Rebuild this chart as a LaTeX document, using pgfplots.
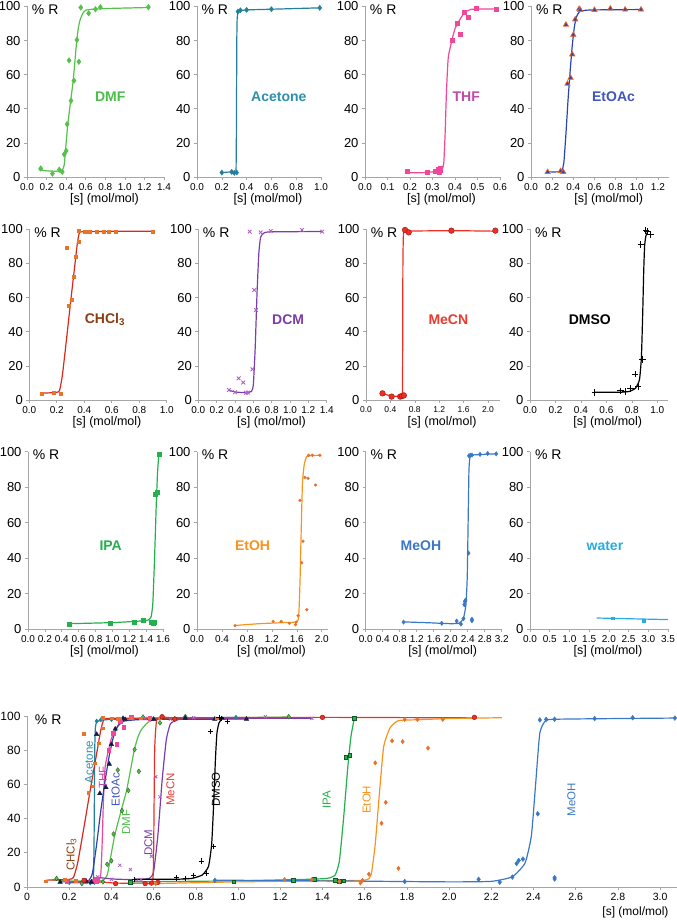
\documentclass[border=0pt]{standalone}
\usepackage{pgfplots}
\pgfplotsset{compat=1.18}
\usepackage{pgfplotstable}
\usepackage{fontspec}
\setmainfont{Liberation Sans}

\definecolor{lDMF}{HTML}{55C04A}\definecolor{tDMF}{HTML}{4DBE4A}
\definecolor{lACE}{HTML}{22809A}\definecolor{tACE}{HTML}{2E8FAB}
\definecolor{lTHF}{HTML}{F0479A}\definecolor{tTHF}{HTML}{BE4BA8}
\definecolor{lEAC}{HTML}{2B45B0}\definecolor{tEAC}{HTML}{3F57B8}\definecolor{oEAC}{HTML}{F26522}
\definecolor{lCHC}{HTML}{D62A1E}\definecolor{tCHC}{HTML}{8B3E12}\definecolor{mCHC}{HTML}{E8742A}
\definecolor{lDCM}{HTML}{7B3DAE}\definecolor{tDCM}{HTML}{7D3CA8}\definecolor{mDCM}{HTML}{B060C0}
\definecolor{lMCN}{HTML}{EE2F24}\definecolor{tMCN}{HTML}{E83A2E}\definecolor{eMCN}{HTML}{A01818}
\definecolor{lIPA}{HTML}{22B14C}
\definecolor{lETH}{HTML}{F7941D}\definecolor{mETH}{HTML}{E8702A}
\definecolor{lMEO}{HTML}{3A78C6}
\definecolor{lWAT}{HTML}{29ABE2}
\definecolor{axg}{HTML}{A6A6A6}

% ---------------- data ----------------
\pgfplotstableread[row sep=\\]{x y\\0.14 5\\0.26 2\\0.33 4.3\\0.36 3\\0.38 13.3\\0.40 15.3\\0.41 31\\0.45 44.7\\0.48 56.5\\0.43 68.4\\0.51 80.4\\0.53 67.6\\0.55 99.4\\0.63 96\\0.70 98.4\\0.75 99.6\\1.24 99.6\\}\dmfP
\pgfplotstableread[row sep=\\]{x y\\0.12 4.2\\0.2 3.6\\0.3 3.4\\0.36 3.8\\0.38 7\\0.39 13\\0.40 20\\0.417 31\\0.447 45\\0.471 56\\0.49 68\\0.508 80\\0.525 87.5\\0.542 92\\0.57 96\\0.60 97.8\\0.65 98.3\\0.8 98.8\\1.24 99.4\\}\dmfC

\pgfplotstableread[row sep=\\]{x y\\0.20 2.6\\0.28 3\\0.30 2.4\\0.32 2.6\\0.33 97\\0.35 97.8\\0.40 98\\0.60 98.4\\0.99 99.2\\}\aceP
\pgfplotstableread[row sep=\\]{x y\\0.2 2.6\\0.26 2.9\\0.29 2.7\\0.31 2.5\\0.315 4\\0.318 30\\0.321 80\\0.324 93\\0.33 96.5\\0.35 97.5\\0.40 98\\0.60 98.4\\0.99 99.2\\}\aceC

\pgfplotstableread[row sep=\\]{x y\\0.188 3.3\\0.278 3\\0.314 3.5\\0.325 4.5\\0.330 3\\0.333 4\\0.336 5\\0.386 80\\0.408 90\\0.424 83.5\\0.441 96.7\\0.458 93.5\\0.494 99.2\\0.581 98.6\\}\thfP
\pgfplotstableread[row sep=\\]{x y\\0.188 2.5\\0.25 2.5\\0.30 3\\0.34 4\\0.350 8\\0.356 25\\0.362 50\\0.370 70\\0.386 80\\0.40 87\\0.42 92\\0.44 96\\0.47 98.3\\0.58 98.6\\}\thfC

\pgfplotstableread[row sep=\\]{x y\\0.157 2.9\\0.28 3.5\\0.305 2.9\\0.33 89.3\\0.345 54.7\\0.374 58.2\\0.39 71.9\\0.40 83.4\\0.418 92.4\\0.455 98.6\\0.465 98\\0.60 98\\0.75 98.8\\0.89 98.2\\1.04 98.2\\}\eacP
\pgfplotstableread[row sep=\\]{x y\\0.157 3\\0.25 3\\0.29 3.5\\0.31 8\\0.33 25\\0.35 45\\0.37 62\\0.39 77\\0.41 88\\0.43 94\\0.46 97\\0.52 97.8\\0.6 98\\1.04 98.2\\}\eacC

\pgfplotstableread[row sep=\\]{x y\\0.09 3.5\\0.18 4.3\\0.23 3.8\\0.27 89.5\\0.29 55\\0.31 59\\0.32 72.5\\0.34 84\\0.36 92.8\\0.36 99\\0.40 98.7\\0.43 98.4\\0.44 98.7\\0.49 98.8\\0.54 98.8\\0.58 98.8\\0.63 98.8\\0.90 98.7\\}\chcP
\pgfplotstableread[row sep=\\]{x y\\0.09 4\\0.15 4.2\\0.20 4.5\\0.22 5.5\\0.24 14\\0.27 35\\0.30 57\\0.33 78\\0.35 92\\0.365 98\\0.40 98.6\\0.6 98.8\\0.91 98.8\\}\chcC

\pgfplotstableread[row sep=\\]{x y\\0.335 5.9\\0.40 4.5\\0.44 12.7\\0.49 10.2\\0.52 4.3\\0.54 4.3\\0.56 98.6\\0.59 18\\0.61 64.5\\0.63 52.7\\0.68 98.2\\0.79 99\\1.13 99.6\\1.35 98.6\\}\dcmP
\pgfplotstableread[row sep=\\]{x y\\0.34 5.5\\0.42 4.6\\0.52 4.3\\0.58 5\\0.60 9\\0.62 30\\0.64 62\\0.66 86\\0.68 95.5\\0.72 98\\0.8 98.5\\1.35 98.7\\}\dcmC

\pgfplotstableread[row sep=\\]{x y\\0.27 3.9\\0.42 2\\0.56 2\\0.59 2.3\\0.62 2.7\\0.64 99.6\\0.70 98.2\\1.40 99.2\\2.12 99.2\\}\mcnP
\pgfplotstableread[row sep=\\]{x y\\0.27 3.8\\0.42 2.3\\0.56 2.3\\0.595 2.6\\0.600 20\\0.605 80\\0.615 98\\0.65 99.5\\0.70 99\\1.40 99.2\\2.12 98.9\\}\mcnC

\pgfplotstableread[row sep=\\]{x y\\0.51 4.3\\0.71 5.3\\0.75 4.9\\0.79 6.8\\0.825 15.2\\0.85 7.8\\0.885 23.8\\0.87 91\\0.91 99.2\\0.92 98.6\\0.95 97\\}\dmsP
\pgfplotstableread[row sep=\\]{x y\\0.51 4.5\\0.7 4.5\\0.78 5\\0.83 7\\0.86 12\\0.875 25\\0.885 50\\0.893 75\\0.90 90\\0.91 96\\0.93 99.5\\}\dmsC

\pgfplotstableread[row sep=\\]{x y\\0.49 2.8\\0.98 3.2\\1.26 4.1\\1.36 4.7\\1.46 3.9\\1.48 3.4\\1.50 3.6\\1.51 76\\1.53 77\\1.55 98.7\\}\ipaP
\pgfplotstableread[row sep=\\]{x y\\0.49 3\\1.0 3.6\\1.3 4.4\\1.42 5\\1.46 7\\1.48 15\\1.50 40\\1.52 70\\1.535 88\\1.55 98\\}\ipaC

\pgfplotstableread[row sep=\\]{x y\\0.61 1.9\\1.22 4.3\\1.35 4.3\\1.48 3.2\\1.58 2.4\\1.59 3.9\\1.62 7.5\\1.65 72.6\\1.68 37.3\\1.70 49.5\\1.73 85.5\\1.76 10.9\\1.78 85\\1.79 98\\1.85 98\\1.90 81.2\\1.97 98\\}\ethP
\pgfplotstableread[row sep=\\]{x y\\0.61 2\\1.0 3\\1.4 3.6\\1.6 4\\1.63 7\\1.65 25\\1.67 55\\1.69 82\\1.72 93\\1.76 97.3\\1.85 97.8\\1.97 98\\}\ethC
\pgfplotstableread[row sep=\\]{x y\\0.61 2\\1.0 3\\1.4 3.6\\1.6 4\\1.63 7\\1.65 25\\1.67 55\\1.69 82\\1.72 93\\1.76 97.3\\1.85 97.8\\2.0 98.5\\2.25 99\\}\ethB

\pgfplotstableread[row sep=\\]{x y\\0.89 3.9\\1.79 3.2\\2.14 4.5\\2.24 2.8\\2.30 5.8\\2.32 13.7\\2.33 15.5\\2.35 16.3\\2.42 42.8\\2.43 97.7\\2.46 98\\2.50 98.1\\2.50 4.7\\2.50 5.5\\2.69 98.5\\2.87 99\\3.07 98.8\\}\meoP
\pgfplotstableread[row sep=\\]{x y\\0.89 4\\1.5 3.5\\2.0 3\\2.2 3.3\\2.3 6\\2.36 14\\2.39 30\\2.41 60\\2.43 90\\2.46 97.5\\2.55 98.2\\3.07 98.8\\}\meoC

\pgfplotstableread[row sep=\\]{x y\\2.09 6\\2.89 4.6\\}\watP
\pgfplotstableread[row sep=\\]{x y\\1.69 6.2\\3.5 5.3\\}\watC

\pgfplotsset{
  panel/.style={
    scale only axis, anchor=south west,
    xmin=0, ymin=0, ymax=100, enlargelimits=false, clip=false,
    axis x line*=bottom, axis y line*=left,
    axis line style={draw=axg, line width=0.9pt, -},
    ytick={0,20,40,60,80,100},
    tick style={draw=axg, line width=0.6pt},
    tick align=outside, major tick length=3pt,
    yticklabel style={font=\fontsize{13}{13}\selectfont},
    xticklabel style={font=\fontsize{10}{10}\selectfont,
      /pgf/number format/fixed, /pgf/number format/fixed zerofill,
      /pgf/number format/precision=1},
    /pgf/number format/assume math mode=true,
    scaled ticks=false,
    xlabel={[s] (mol/mol)},
  },
  rowlab/.style={xlabel style={font=\fontsize{12.5}{12.5}\selectfont,
      at={(axis description cs:0.5,0)}, anchor=center, yshift=-22pt, xshift=9pt}},
  curve/.style={line width=1.2pt, smooth, tension=0.3, mark=none},
  pts/.style={only marks},
}
\tikzset{
  pR/.style={anchor=north west, inner sep=0pt, font=\fontsize{14}{14}\selectfont},
  nm/.style={font=\bfseries\fontsize{14}{14}\selectfont},
  bl/.style={rotate=90, font=\fontsize{11.5}{11.5}\selectfont},
}

\begin{document}
\begin{tikzpicture}
\path[use as bounding box] (0,0) rectangle (677pt,921pt);

% ===== Row 1 =====
\begin{axis}[panel, rowlab, at={(27pt,744pt)}, width=137pt, height=170.5pt, xmax=1.4, xtick={0,0.2,0.4,0.6,0.8,1.0,1.2,1.4}]
\addplot[curve, lDMF] table {\dmfC};
\addplot[pts, mark=diamond*, mark size=2.8pt, color=lDMF] table {\dmfP};
\node[pR] at (rel axis cs:0.035,1.01) {\% R};
\node[nm, text=tDMF] at (axis cs:0.85,47) {DMF};
\end{axis}

\begin{axis}[panel, rowlab, at={(197pt,744pt)}, width=124pt, height=170.5pt, xmax=1.0, xtick={0,0.2,0.4,0.6,0.8,1.0}]
\addplot[curve, lACE, smooth=false] table {\aceC};
\addplot[pts, mark=diamond*, mark size=2.6pt, color=lACE] table {\aceP};
\node[pR] at (rel axis cs:0.035,1.01) {\% R};
\node[nm, text=tACE] at (axis cs:0.66,47) {Acetone};
\end{axis}

\begin{axis}[panel, rowlab, at={(365pt,744pt)}, width=135pt, height=170.5pt, xmax=0.6, xtick={0,0.1,0.2,0.3,0.4,0.5,0.6}]
\addplot[curve, lTHF] table {\thfC};
\addplot[pts, mark=square*, mark size=2pt, color=lTHF] table {\thfP};
\node[pR] at (rel axis cs:0.035,1.01) {\% R};
\node[nm, text=tTHF] at (axis cs:0.45,47) {THF};
\end{axis}

\begin{axis}[panel, rowlab, at={(531pt,744pt)}, width=137.5pt, height=170.5pt, xmax=1.3, xtick={0,0.2,0.4,0.6,0.8,1.0,1.2}]
\addplot[curve, lEAC] table {\eacC};
\addplot[pts, mark=triangle*, mark size=3pt, mark options={fill=lEAC, draw=oEAC, line width=0.7pt}] table {\eacP};
\node[pR] at (rel axis cs:0.035,1.01) {\% R};
\node[nm, text=tEAC] at (axis cs:0.78,47) {EtOAc};
\end{axis}

% ===== Row 2 =====
\begin{axis}[panel, rowlab, at={(29.3pt,521pt)}, width=137.4pt, height=170.7pt, xmax=1.0, xtick={0,0.2,0.4,0.6,0.8,1.0}]
\addplot[curve, lCHC] table {\chcC};
\addplot[pts, mark=square*, mark size=1.5pt, color=mCHC] table {\chcP};
\node[pR] at (rel axis cs:0.035,1.01) {\% R};
\node[nm, text=tCHC] at (axis cs:0.55,47) {CHCl\textsubscript{3}};
\end{axis}

\begin{axis}[panel, rowlab, at={(198.3pt,521pt)}, width=128.4pt, height=170.7pt, xmax=1.4, xtick={0,0.2,0.4,0.6,0.8,1.0,1.2,1.4}]
\addplot[curve, lDCM] table {\dcmC};
\addplot[pts, mark=x, mark size=2.6pt, color=mDCM, line width=0.9pt] table {\dcmP};
\node[pR] at (rel axis cs:0.035,1.01) {\% R};
\node[nm, text=tDCM] at (axis cs:0.98,47) {DCM};
\end{axis}

\begin{axis}[panel, rowlab, at={(366pt,521pt)}, width=134.2pt, height=170.7pt, xmax=2.2, xtick={0,0.4,0.8,1.2,1.6,2.0},
  xticklabel style={font=\fontsize{8.5}{8.5}\selectfont}]
\addplot[curve, lMCN, smooth=false] table {\mcnC};
\addplot[pts, mark=*, mark size=2.8pt, mark options={fill=lMCN, draw=eMCN, line width=0.5pt}] table {\mcnP};
\node[pR] at (rel axis cs:0.035,1.01) {\% R};
\node[nm, text=tMCN] at (axis cs:1.35,47) {MeCN};
\end{axis}

\begin{axis}[panel, rowlab, at={(530pt,521pt)}, width=137.5pt, height=170.7pt, xmax=1.08, xtick={0,0.2,0.4,0.6,0.8,1.0}]
\addplot[curve, black] table {\dmsC};
\addplot[pts, mark=+, mark size=3.2pt, color=black, line width=1pt] table {\dmsP};
\node[pR] at (rel axis cs:0.035,1.01) {\% R};
\node[nm, text=black] at (axis cs:0.47,47) {DMSO};
\end{axis}

% ===== Row 3 =====
\begin{axis}[panel, rowlab, at={(28pt,292pt)}, width=135pt, height=177.3pt, xmax=1.6, xtick={0,0.2,0.4,0.6,0.8,1.0,1.2,1.4,1.6}]
\addplot[curve, lIPA] table {\ipaC};
\addplot[pts, mark=square*, mark size=2pt, color=lIPA] table {\ipaP};
\node[pR] at (rel axis cs:0.035,1.01) {\% R};
\node[nm, text=lIPA] at (axis cs:0.98,47) {IPA};
\end{axis}

\begin{axis}[panel, rowlab, at={(197pt,292pt)}, width=131pt, height=177.3pt, xmax=2.1, xtick={0,0.4,0.8,1.2,1.6,2.0}]
\addplot[curve, lETH] table {\ethC};
\addplot[pts, mark=*, mark size=1.4pt, color=mETH] table {\ethP};
\node[pR] at (rel axis cs:0.035,1.01) {\% R};
\node[nm, text=lETH] at (axis cs:0.89,47) {EtOH};
\end{axis}

\begin{axis}[panel, rowlab, at={(365.7pt,292pt)}, width=136pt, height=177.3pt, xmax=3.2, xtick={0,0.4,0.8,1.2,1.6,2.0,2.4,2.8,3.2}]
\addplot[curve, lMEO] table {\meoC};
\addplot[pts, mark=diamond*, mark size=2.2pt, color=lMEO] table {\meoP};
\node[pR] at (rel axis cs:0.035,1.01) {\% R};
\node[nm, text=lMEO] at (axis cs:1.3,47) {MeOH};
\end{axis}

\begin{axis}[panel, rowlab, at={(530pt,292pt)}, width=138pt, height=177.3pt, xmax=3.5, xtick={0,0.5,1.0,1.5,2.0,2.5,3.0,3.5}]
\addplot[curve, lWAT, smooth=false] table {\watC};
\addplot[pts, mark=square*, mark size=1.3pt, color=lWAT] table {\watP};
\node[pR] at (rel axis cs:0.035,1.01) {\% R};
\node[nm, text=lWAT] at (axis cs:1.9,47) {water};
\end{axis}

% ===== Bottom =====
\begin{axis}[panel, at={(27pt,34pt)}, width=650pt, height=171pt, xmax=3.08,
  xtick={0,0.2,0.4,0.6,0.8,1.0,1.2,1.4,1.6,1.8,2.0,2.2,2.4,2.6,2.8,3.0},
  xticklabels={0,0.2,0.4,0.6,0.8,1.0,1.2,1.4,1.6,1.8,2.0,2.2,2.4,2.6,2.8,3.0},
  xticklabel style={font=\fontsize{10.5}{10.5}\selectfont},
  yticklabel style={font=\fontsize{12}{12}\selectfont},
  xlabel style={font=\fontsize{12}{12}\selectfont, at={(axis description cs:1,0)}, anchor=east, yshift=-25pt, xshift=-5pt}]
\addplot[curve, lDMF] table {\dmfC};
\addplot[curve, lACE, smooth=false] table {\aceC};
\addplot[curve, lTHF] table {\thfC};
\addplot[curve, lEAC] table {\eacC};
\addplot[curve, lCHC] table {\chcC};
\addplot[curve, lDCM] table {\dcmC};
\addplot[curve, lMCN, smooth=false] table {\mcnC};
\addplot[curve, black] table {\dmsC};
\addplot[curve, lIPA] table {\ipaC};
\addplot[curve, lETH] table {\ethB};
\addplot[curve, lMEO] table {\meoC};
\addplot[pts, mark=diamond*, mark size=2.4pt, mark options={fill=lDMF, draw=lDMF!50!black}] table {\dmfP};
\addplot[pts, mark=diamond*, mark size=2.2pt, color=lACE] table {\aceP};
\addplot[pts, mark=square*, mark size=1.7pt, color=lTHF] table {\thfP};
\addplot[pts, mark=triangle*, mark size=2.6pt, mark options={fill=lEAC!40!black, draw=lEAC!40!black}] table {\eacP};
\addplot[pts, mark=square*, mark size=1.3pt, color=mCHC] table {\chcP};
\addplot[pts, mark=x, mark size=2.2pt, color=mDCM, line width=0.8pt] table {\dcmP};
\addplot[pts, mark=*, mark size=2.3pt, mark options={fill=lMCN, draw=eMCN, line width=0.5pt}] table {\mcnP};
\addplot[pts, mark=+, mark size=2.6pt, color=black, line width=0.9pt] table {\dmsP};
\addplot[pts, mark=square*, mark size=1.8pt, mark options={fill=lIPA, draw=lIPA!50!black}] table {\ipaP};
\addplot[pts, mark=diamond*, mark size=2.2pt, color=mETH] table {\ethP};
\addplot[pts, mark=diamond*, mark size=2.4pt, color=lMEO] table {\meoP};
\node[pR] at (rel axis cs:0.012,1.01) {\% R};
\node[bl, text=tACE] at (axis cs:0.294,73) {Acetone};
\node[bl, text=tTHF] at (axis cs:0.36,64) {THF};
\node[bl, text=tEAC] at (axis cs:0.42,57) {EtOAc};
\node[bl, text=tCHC] at (axis cs:0.21,19) {CHCl\textsubscript{3}};
\node[bl, text=tDMF] at (axis cs:0.47,38) {DMF};
\node[bl, text=tDCM] at (axis cs:0.575,26) {DCM};
\node[bl, text=tMCN] at (axis cs:0.68,57) {MeCN};
\node[bl, text=black] at (axis cs:0.895,57) {DMSO};
\node[bl, text=lIPA] at (axis cs:1.42,51) {IPA};
\node[bl, text=lETH] at (axis cs:1.61,51) {EtOH};
\node[bl, text=lMEO] at (axis cs:2.58,51) {MeOH};
\end{axis}
\end{tikzpicture}
\end{document}
